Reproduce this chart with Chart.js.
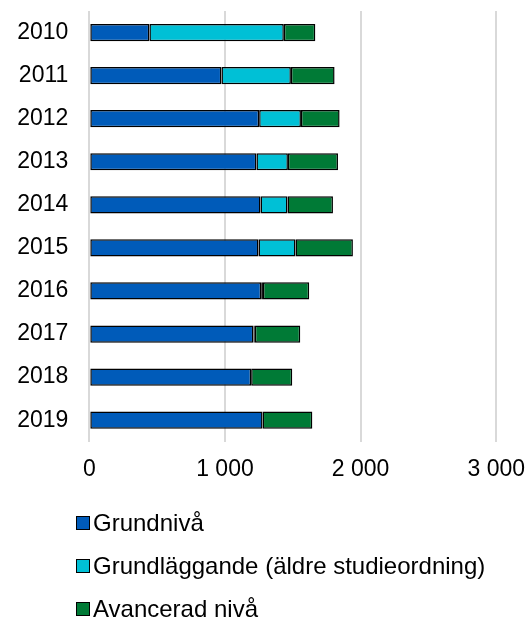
<!DOCTYPE html>
<html>
<head>
<meta charset="utf-8">
<script src="https://cdn.jsdelivr.net/npm/chart.js@4.4.1/dist/chart.umd.min.js"></script>
<style>
  html, body { margin: 0; padding: 0; background: #fff; }
  #wrap { position: relative; width: 532px; height: 618px; overflow: hidden; }
  #legend { position: absolute; left: 76px; top: 501px; font-family: "Liberation Sans", Arial, sans-serif; font-size: 24px; color: #000; }
  .item { display: flex; align-items: center; height: 43px; white-space: nowrap; }
  .box { width: 12px; height: 12px; border: 1.5px solid #000; margin-right: 3px; box-sizing: content-box; }
</style>
</head>
<body>
<div id="wrap">
  <canvas id="chart" width="532" height="618"></canvas>
  <div id="legend"></div>
</div>
<script>
// ===== DATA =====
const years = ['2010', '2011', '2012', '2013', '2014', '2015', '2016', '2017', '2018', '2019'];
const grundniva = [443, 974, 1252, 1232, 1262, 1247, 1267, 1210, 1193, 1277];
const grundlaggande = [991, 512, 308, 232, 199, 273, 13, 10, 0, 0];
const avancerad = [232, 322, 285, 369, 335, 423, 341, 335, 303, 367];
const xTickLabels = ['0', '1 000', '2 000', '3 000'];

const seriesNames = ['Grundnivå', 'Grundläggande (äldre studieordning)', 'Avancerad nivå'];
const seriesColors = ['#005bb9', '#00c0d6', '#007a36'];

const font = { family: '"Liberation Sans", Arial, sans-serif', size: 23 };

const makeSet = (i, data) => ({
    label: seriesNames[i],
    data,
    backgroundColor: seriesColors[i],
    borderColor: '#000',
    borderWidth: 1.5,
    borderSkipped: false,
    categoryPercentage: 1,
    barPercentage: 0.4,
});

const chart = new Chart(document.getElementById('chart'), {
    type: 'bar',
    data: {
        labels: years,
        datasets: [
            makeSet(0, grundniva),
            makeSet(1, grundlaggande),
            makeSet(2, avancerad),
        ]
    },
    options: {
        indexAxis: 'y',
        responsive: false,
        animation: false,
        layout: { padding: { left: 16, right: 0, top: 11, bottom: 134.7 } },
        plugins: {
            legend: { display: false },
            tooltip: { enabled: false }
        },
        scales: {
            x: {
                stacked: true,
                min: 0,
                max: 3000,
                ticks: {
                    stepSize: 1000,
                    color: '#000',
                    font,
                    padding: 14,
                    maxRotation: 0,
                    callback: (v, i) => xTickLabels[i]
                },
                grid: { color: '#d9d9d9', lineWidth: 2, drawTicks: false },
                border: { display: false },
                afterFit: s => { s.paddingLeft = 0; s.paddingRight = 35.7; s.height = 41.6; }
            },
            y: {
                stacked: true,
                ticks: { color: '#000', font, padding: 21 },
                grid: { display: false, drawTicks: false },
                border: { display: false },
                afterFit: s => { s.width = 73.3; s.paddingTop = 0; s.paddingBottom = 0; }
            }
        }
    }
});

// ===== LEGENDA (HTML) =====
const legend = document.getElementById('legend');
chart.data.datasets.forEach(ds => {
    const item = document.createElement('div');
    item.className = 'item';
    const box = document.createElement('span');
    box.className = 'box';
    box.style.background = ds.backgroundColor;
    const txt = document.createElement('span');
    txt.textContent = ds.label;
    item.appendChild(box);
    item.appendChild(txt);
    legend.appendChild(item);
});
</script>
</body>
</html>
